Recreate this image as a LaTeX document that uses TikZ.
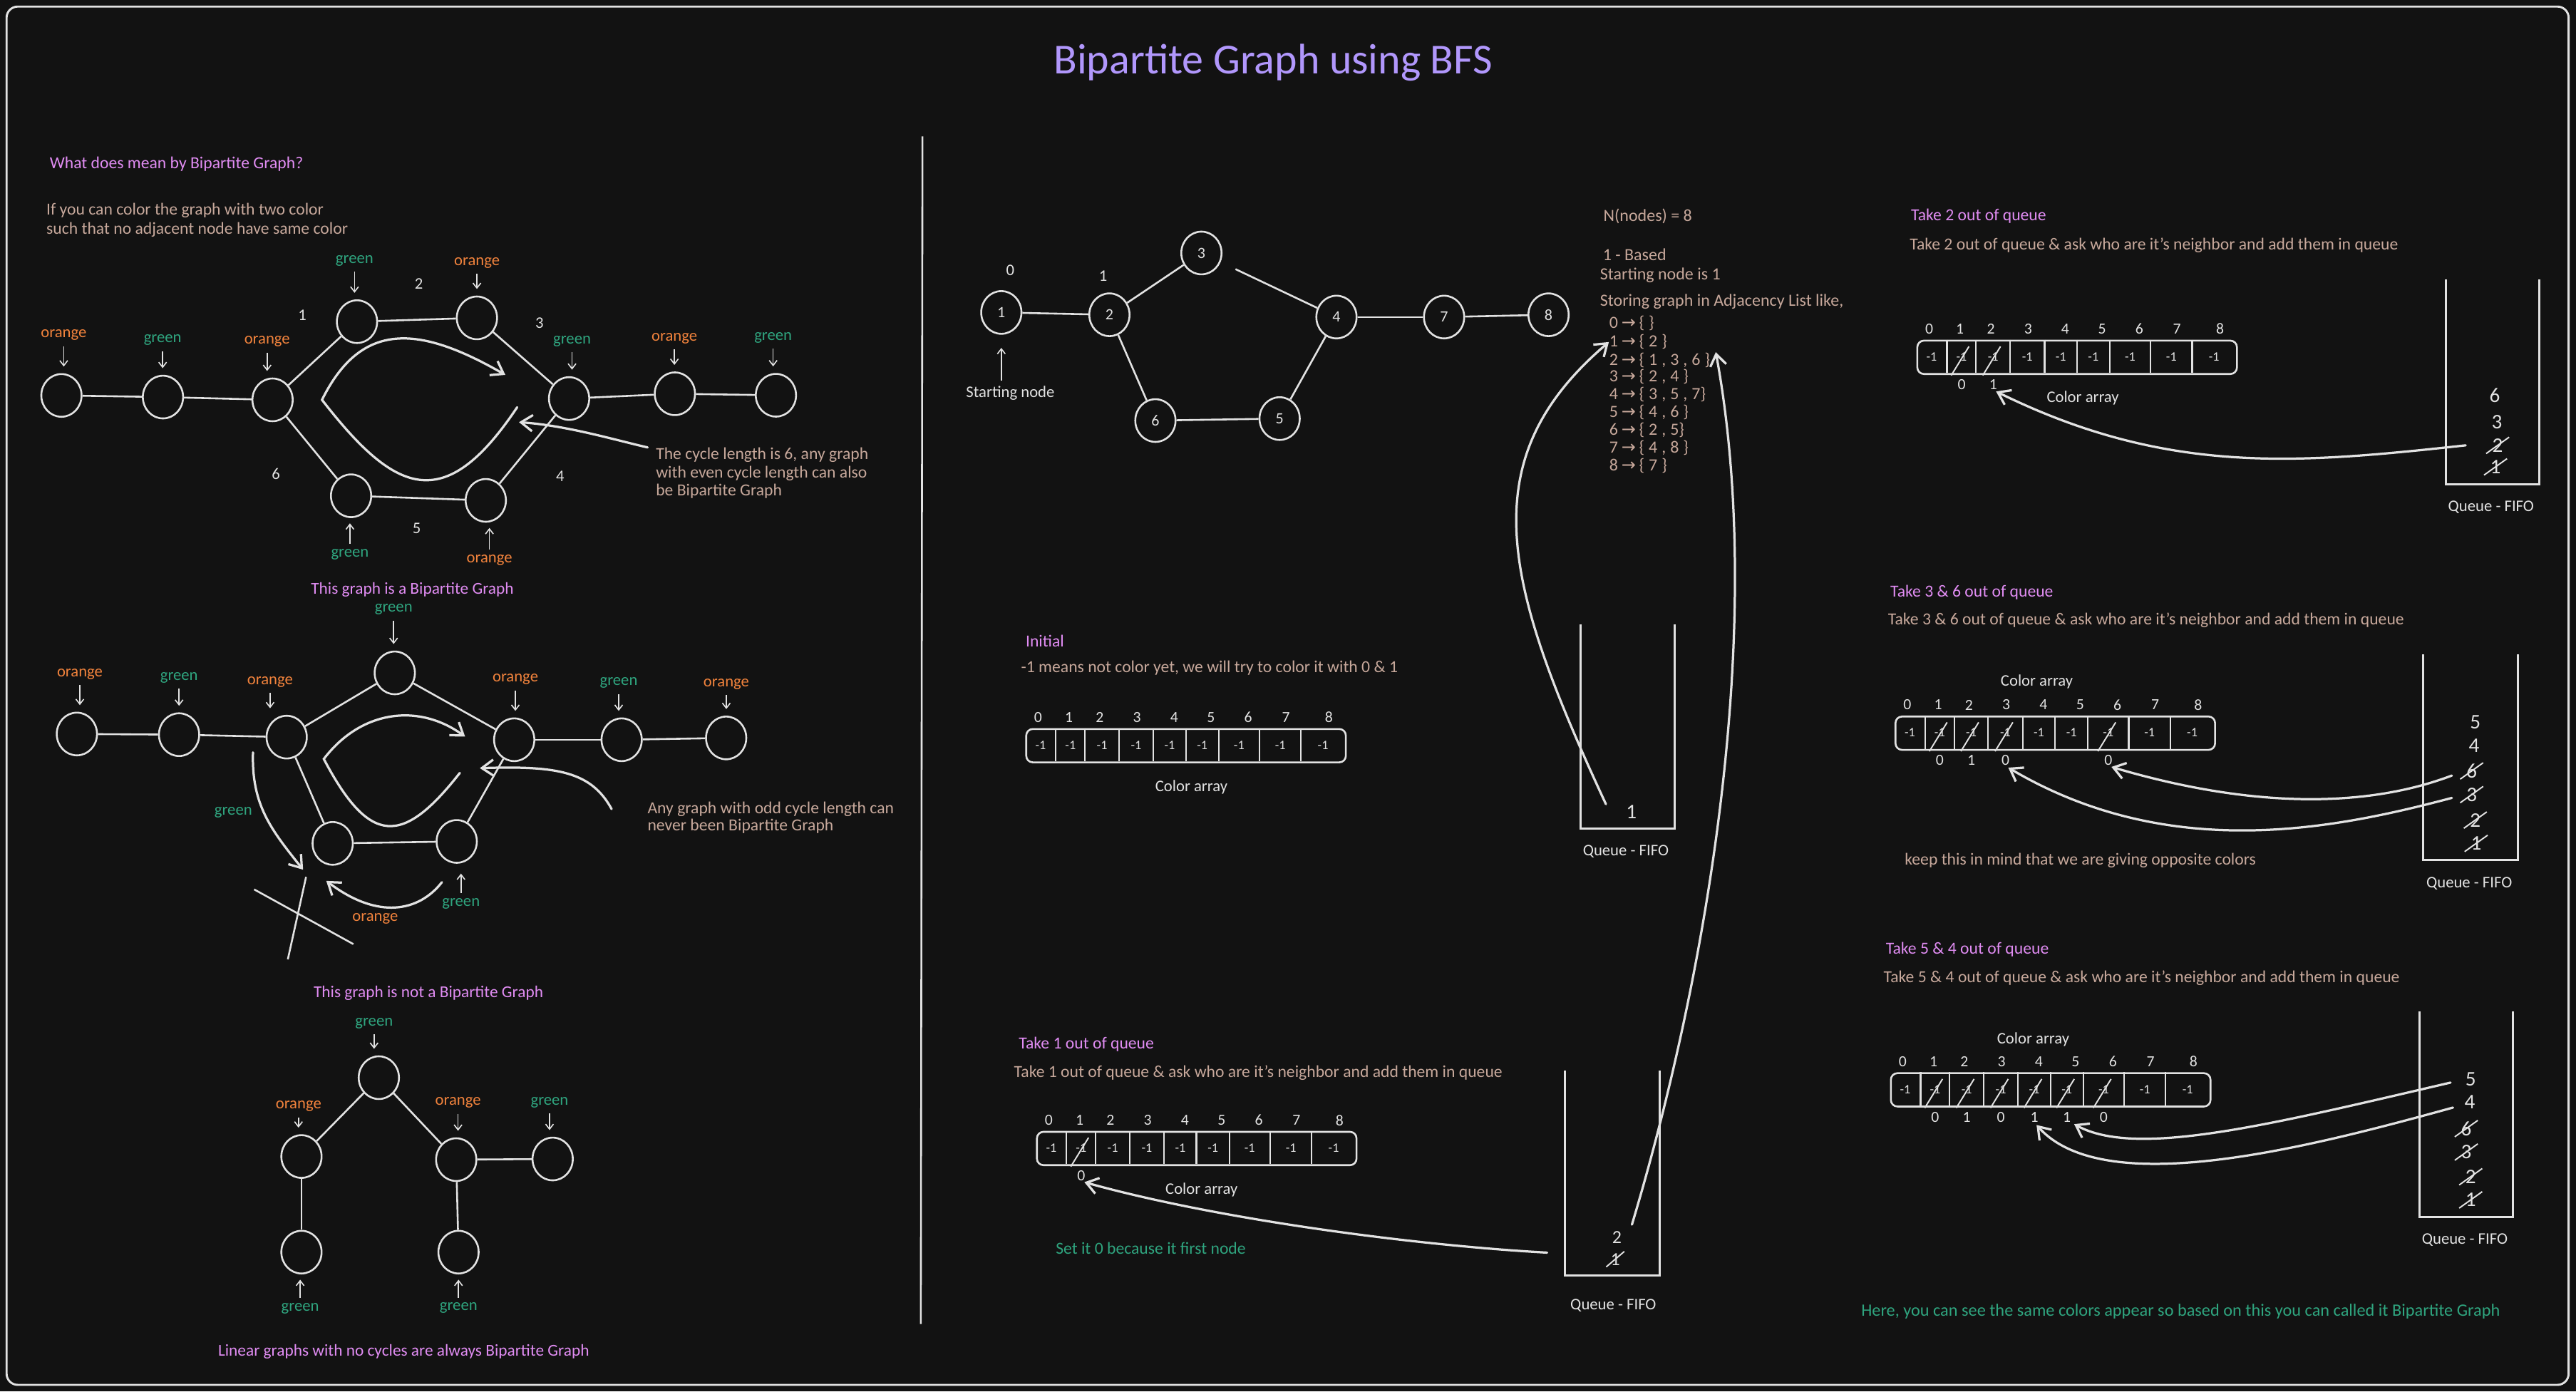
\documentclass[tikz,border=0pt]{standalone}
\usepackage{fontspec}
\setmainfont{Carlito}
\newfontfamily\djv{DejaVu Sans}
\usetikzlibrary{arrows.meta,shapes.geometric,calc}
\definecolor{bg}{HTML}{121212}
\definecolor{ink}{HTML}{E2E2E2}
\definecolor{violet}{HTML}{B197FC}
\definecolor{pinkh}{HTML}{E08CF2}
\definecolor{tan}{HTML}{C7A89B}
\definecolor{orng}{HTML}{F0823C}
\definecolor{grn}{HTML}{2FA57F}
\newcommand{\fsz}[2]{\fontsize{#1}{#2}\selectfont}
\newcommand{\ar}{\hspace{0.2em}{\djv →}\hspace{0.2em}}
\newcommand{\spx}{\hspace{0.25em}}
\tikzset{
  gnode/.style={ellipse, draw=ink, line width=0.8pt, minimum width=0.6125cm, minimum height=0.65cm, inner sep=0pt, text=ink, font=\fsz{6.8}{8}},
  gedge/.style={draw=ink, line width=0.8pt},
  larrow/.style={draw=ink, line width=0.5pt, -{Straight Barb[length=2.2pt,width=3.4pt]}},
  barrow/.style={draw=ink, line width=1pt, line cap=round, -{Straight Barb[length=5pt,width=7pt]}},
  ltxt/.style={font=\fsz{7}{8.4}, inner sep=0pt},
  orangelbl/.style={ltxt, text=orng},
  greenlbl/.style={ltxt, text=grn},
  wnum/.style={font=\fsz{7}{8}, text=ink, inner sep=0pt},
  hdtxt/.style={font=\fsz{7.3}{8.6}, text=pinkh, inner sep=0pt, anchor=west},
  bdtxt/.style={font=\fsz{7.3}{8.6}, text=tan, inner sep=0pt, anchor=west, align=left},
  grntxt/.style={font=\fsz{7.3}{8.6}, text=grn, inner sep=0pt, anchor=west},
  adjtxt/.style={font=\fsz{7.4}{8.6}, text=tan, inner sep=0pt, anchor=west},
  captxt/.style={font=\fsz{7.2}{8.6}, text=pinkh, inner sep=0pt},
  idx/.style={font=\fsz{6.7}{7.5}, text=ink, inner sep=0pt},
  cellv/.style={font=\fsz{5.6}{6.5}, text=ink, inner sep=0pt},
  arrbox/.style={draw=ink, line width=0.8pt, rounded corners=0.1cm, minimum width=4.8625cm, minimum height=0.5075cm, inner sep=0pt, anchor=north west},
  divl/.style={draw=ink, line width=0.7pt},
  slashl/.style={draw=ink, line width=0.6pt},
  qline/.style={draw=ink, line width=0.9pt},
  qnum/.style={font=\fsz{9}{10}, text=ink, inner sep=0pt},
  wtxt/.style={font=\fsz{7}{8.4}, text=ink, inner sep=0pt},
}
\newcommand{\carr}[2]{%
  \begin{scope}[shift={#2}]
    \node[arrbox] (#1) at (0,0) {};
    \foreach \xd in {18.6,36.3,57,78,97.7,117.7,142.5,167.8}{\draw[divl] (\xd,0) -- (\xd,20.3);}
    \foreach \i/\x in {0/7.8,1/26.5,2/45.3,3/68,4/90.6,5/113,6/135.7,7/158.6,8/184.8}{\node[idx] (#1i\i) at (\x,-6.5) {\i};}
    \foreach \i/\x in {0/9.3,1/27.5,2/46.7,3/67.5,4/87.9,5/107.7,6/130.1,7/155.2,8/181.2}{\node[cellv] (#1c\i) at (\x,10.4) {-1};}
  \end{scope}}
\newcommand{\bel}[3]{\node[idx] (#1b#2) at ($(#1c#2.center)+(0,16.9)$) {#3};}
\newcommand{\cslash}[1]{\draw[slashl] ($(#1.center)+(-6.3,11.3)$) -- ($(#1.center)+(4.5,-6.3)$);}
\newcommand{\qx}[3]{\node[qnum] (#1) at #2 {#3};\draw[slashl] ($(#1.center)+(-7,5)$) -- ($(#1.center)+(7,-5)$);}
\newcommand{\queue}[4]{\draw[qline] (#1,#2) -- (#1,#4) -- (#3,#4) -- (#3,#2);}
\begin{document}
\begin{tikzpicture}[x=0.025cm,y=-0.025cm]
\fill[bg] (0,0) rectangle (1568,847);
\path[use as bounding box] (0,0) rectangle (1568,847);
\draw[ink, line width=0.9pt, rounded corners=0.17cm] (4,4) rectangle (1563.5,843);
\draw[ink, line width=0.8pt] (561.5,83) -- (560.5,806);

\node[font=\fsz{18.5}{22}, text=violet, inner sep=0pt] (title) at (775,38) {Bipartite Graph using BFS};

% ---------------- left panel ----------------
\node[hdtxt] (q1) at (30,100) {What does mean by Bipartite Graph?};
\node[bdtxt] (def) at (28,134) {If you can color the graph with two color\\such that no adjacent node have same color};

% graph 1
\node[gnode] (a1) at (37.4,240.7) {};
\node[gnode] (a2) at (99.2,241.7) {};
\node[gnode] (a3) at (165.9,243.4) {};
\node[gnode] (a4) at (217.3,195.8) {};
\node[gnode] (a5) at (290.3,193.5) {};
\node[gnode] (a6) at (346.4,242.6) {};
\node[gnode] (a7) at (410.8,239.7) {};
\node[gnode] (a8) at (472.3,240.6) {};
\node[gnode] (a9) at (213.7,301.8) {};
\node[gnode] (a10) at (295.7,304.6) {};
\draw[gedge] (a1) -- (a2); \draw[gedge] (a2) -- (a3); \draw[gedge] (a3) -- (a4);
\draw[gedge] (a4) -- (a5); \draw[gedge] (a5) -- (a6); \draw[gedge] (a6) -- (a7);
\draw[gedge] (a7) -- (a8); \draw[gedge] (a3) -- (a9); \draw[gedge] (a9) -- (a10);
\draw[gedge] (a10) -- (a6);
\node[wnum] (e1) at (184,191.7) {1};
\node[wnum] (e2) at (255,172.7) {2};
\node[wnum] (e3) at (328.4,196.8) {3};
\node[wnum] (e4) at (341,289.8) {4};
\node[wnum] (e5) at (253.6,321.5) {5};
\node[wnum] (e6) at (168,288.5) {6};
\node[orangelbl] (la1) at (38.8,204) {orange};
\node[greenlbl] (la2) at (99,207) {green};
\node[orangelbl] (la3) at (162.6,208) {orange};
\node[greenlbl] (la4) at (215.8,158.8) {green};
\node[orangelbl] (la5) at (290.3,159.9) {orange};
\node[greenlbl] (la6) at (348.2,207.7) {green};
\node[orangelbl] (la7) at (410.5,205.9) {orange};
\node[greenlbl] (la8) at (470.6,205.5) {green};
\node[greenlbl] (la9) at (213,337.4) {green};
\node[orangelbl] (la10) at (297.9,341) {orange};
\foreach \n in {1,...,8}{\draw[larrow, shorten <=0.08cm, shorten >=0.1cm] (la\n.south) -- (la\n.south |- a\n.north);}
\foreach \n in {9,10}{\draw[larrow, shorten <=0.07cm, shorten >=0.08cm] (la\n.north) -- (la\n.north |- a\n.south);}
\coordinate (g1s) at (314.8,247.9);
\coordinate (g1v) at (196,243.4);
\coordinate (g1e) at (307.6,228.2);
\draw[barrow] (g1s) .. controls (270,315) and (240,300) .. (g1v) .. controls (220,195) and (255,198) .. (g1e);
\node[bdtxt, font=\fsz{7.3}{7.8}] (note1) at (399,288) {The cycle length is 6, any graph\\with even cycle length can also\\be Bipartite Graph};
\coordinate (g1n) at (315.9,257);
\draw[barrow] ([xshift=-0.12cm]note1.north west) .. controls (375,268) and (345,259) .. (g1n);
\node[captxt] (cap1) at (251,359) {This graph is a Bipartite Graph};

% graph 2
\node[gnode] (b1) at (46.8,446.8) {};
\node[gnode] (b2) at (109,447.2) {};
\node[gnode] (b3) at (174.5,448.7) {};
\node[gnode] (b4) at (240.3,409.6) {};
\node[gnode] (b5) at (313,450.3) {};
\node[gnode] (b6) at (378.4,450.3) {};
\node[gnode] (b7) at (442,449.2) {};
\node[gnode] (b8) at (202.5,513.4) {};
\node[gnode] (b9) at (278,512.2) {};
\draw[gedge] (b1) -- (b2); \draw[gedge] (b2) -- (b3); \draw[gedge] (b3) -- (b4);
\draw[gedge] (b4) -- (b5); \draw[gedge] (b5) -- (b6); \draw[gedge] (b6) -- (b7);
\draw[gedge] (b3) -- (b8); \draw[gedge] (b8) -- (b9); \draw[gedge] (b9) -- (b5);
\node[orangelbl] (lb1) at (48.6,410.3) {orange};
\node[greenlbl] (lb2) at (109,412.6) {green};
\node[orangelbl] (lb3) at (164.4,415.1) {orange};
\node[greenlbl] (lb4) at (239.6,371) {green};
\node[orangelbl] (lb5) at (313.7,413.5) {orange};
\node[greenlbl] (lb6) at (376.6,415.8) {green};
\node[orangelbl] (lb7) at (442.1,416.3) {orange};
\foreach \n in {1,...,7}{\draw[larrow, shorten <=0.08cm, shorten >=0.1cm] (lb\n.south) -- (lb\n.south |- b\n.north);}
\node[greenlbl] (lb9) at (280.6,550) {green};
\draw[larrow, shorten <=0.07cm, shorten >=0.15cm] (lb9.north) -- (lb9.north |- b9.south);
\coordinate (g2s) at (279.9,470.5);
\coordinate (g2v) at (197.1,462);
\coordinate (g2e) at (283.1,448.4);
\draw[barrow] (g2s) .. controls (245,515) and (225,515) .. (g2v) .. controls (220,432) and (255,428) .. (g2e);
\node[bdtxt, font=\fsz{7.3}{7.6}] (note2) at (393.9,497.8) {Any graph with odd cycle length can\\never been Bipartite Graph};
\coordinate (g2a) at (372.3,492.5);
\coordinate (g2n) at (292.1,467.6);
\draw[barrow] (g2a) .. controls (360,470) and (340,466) .. (g2n);
\node[greenlbl] (lgx) at (142,494.6) {green};
\node[orangelbl] (lox) at (228.4,559.1) {orange};
\coordinate (x1s) at (154,458);
\coordinate (x1e) at (184.5,529.4);
\draw[barrow] (x1s) .. controls (153,490) and (165,505) .. (x1e);
\coordinate (x2s) at (269,537);
\coordinate (x2e) at (198.6,536.2);
\draw[barrow] (x2s) .. controls (255,555) and (230,560) .. (x2e);
\draw[gedge] (154.7,541.4) -- (215.1,574.7);
\draw[gedge] (186.3,533.8) -- (175.2,584);
\node[captxt] (cap2) at (260.8,604.4) {This graph is not a Bipartite Graph};

% graph 3
\node[gnode] (c1) at (230.6,656) {};
\node[gnode] (c2) at (183.5,704) {};
\node[gnode] (c3) at (277.7,705.9) {};
\node[gnode] (c4) at (336.4,705.5) {};
\node[gnode] (c5) at (183.5,762.2) {};
\node[gnode] (c6) at (279.1,762.2) {};
\draw[gedge] (c1) -- (c2); \draw[gedge] (c1) -- (c3); \draw[gedge] (c2) -- (c5);
\draw[gedge] (c3) -- (c6); \draw[gedge] (c3) -- (c4);
\node[greenlbl] (lc1) at (227.7,622.9) {green};
\node[orangelbl] (lc2) at (181.7,673.4) {orange};
\node[orangelbl] (lc3) at (278.8,671.2) {orange};
\node[greenlbl] (lc4) at (334.5,671) {green};
\node[greenlbl] (lc5) at (182.7,796.5) {green};
\node[greenlbl] (lc6) at (279.1,796.2) {green};
\foreach \n in {1,...,4}{\draw[larrow, shorten <=0.08cm, shorten >=0.1cm] (lc\n.south) -- (lc\n.south |- c\n.north);}
\foreach \n in {5,6}{\draw[larrow, shorten <=0.07cm, shorten >=0.08cm] (lc\n.north) -- (lc\n.north |- c\n.south);}
\node[captxt] (cap3) at (245.7,822.6) {Linear graphs with no cycles are always Bipartite Graph};

% ---------------- middle panel ----------------
\node[gnode] (m1) at (609.5,190.2) {1};
\node[gnode] (m2) at (675.3,191.6) {2};
\node[gnode] (m3) at (731.3,154) {3};
\node[gnode] (m4) at (813.5,193) {4};
\node[gnode] (m7) at (879,193) {7};
\node[gnode] (m8) at (942.6,191.6) {8};
\node[gnode] (m6) at (703.3,256) {6};
\node[gnode] (m5) at (778.9,254.8) {5};
\draw[gedge] (m1) -- (m2); \draw[gedge] (m2) -- (m3);
\draw[gedge, shorten <=0.25cm] (m3) -- (m4);
\draw[gedge] (m4) -- (m7); \draw[gedge] (m7) -- (m8);
\draw[gedge] (m2) -- (m6); \draw[gedge] (m6) -- (m5); \draw[gedge] (m5) -- (m4);
\node[wnum] (mc1) at (615,164.6) {0};
\node[wnum] (mc2) at (671.5,168) {1};
\node[wtxt] (stlbl) at (615,239.3) {Starting node};
\draw[larrow, shorten <=0.08cm, shorten >=0.2cm] (stlbl.north -| m1.south) -- (m1.south);

% adjacency
\node[adjtxt] (adjN) at (975.8,131.6) {N(nodes) = 8};
\node[adjtxt] (adjB) at (975.4,155) {1 - Based};
\node[adjtxt] (adjS) at (973.7,167.5) {Starting node is 1};
\node[adjtxt] (adjG) at (973.7,183.7) {Storing graph in Adjacency List like,};
\node[adjtxt] (adj0) at (979.3,196.7) {0\ar\{\spx\}};
\node[adjtxt] (adj1) at (979.3,208.2) {1\ar\{\spx2\spx\}};
\node[adjtxt] (adj2) at (979.3,219.1) {2\ar\{\spx1\spx,\spx3\spx,\spx6\spx\}};
\node[adjtxt] (adj3) at (979.3,229.2) {3\ar\{\spx2\spx,\spx4\spx\}};
\node[adjtxt] (adj4) at (979.3,240) {4\ar\{\spx3\spx,\spx5\spx,\spx7\}};
\node[adjtxt] (adj5) at (979.3,250.9) {5\ar\{\spx4\spx,\spx6\spx\}};
\node[adjtxt] (adj6) at (979.3,261.7) {6\ar\{\spx2\spx,\spx5\}};
\node[adjtxt] (adj7) at (979.3,272.6) {7\ar\{\spx4\spx,\spx8\spx\}};
\node[adjtxt] (adj8) at (979.3,283.4) {8\ar\{\spx7\spx\}};

% initial
\node[hdtxt] (init) at (624.1,390.2) {Initial};
\node[bdtxt] (initd) at (621.3,406.6) {-1 means not color yet, we will try to color it with 0 \& 1};
\carr{ai}{(624.1,443.2)}
\node[wtxt] (ailbl) at (725.2,479) {Color array};
\queue{962}{380}{1019.3}{504.5}
\node[qnum] (qi1) at (993,494.3) {1};
\node[wtxt] (qilbl) at (989.6,518.4) {Queue - FIFO};
\draw[barrow] ([xshift=-0.3cm,yshift=0.12cm]qi1.west) .. controls (915,355) and (895,280) .. (adj1.west);

% take 1
\node[hdtxt] (t1h) at (619.9,635.6) {Take 1 out of queue};
\node[bdtxt] (t1d) at (617,652.9) {Take 1 out of queue \& ask who are it’s neighbor and add them in queue};
\carr{at}{(630.6,688.4)}
\cslash{atc1}
\bel{at}{1}{0}
\node[wtxt] (atlbl) at (731.4,724.2) {Color array};
\node[grntxt] (t1n) at (642.4,760) {Set it 0 because it first node};
\queue{952.4}{651.5}{1010.2}{776.5}
\node[qnum, font=\fsz{8}{9}] (qt2) at (984.2,753.4) {2};
\node[qnum, font=\fsz{8}{9}] (qt1) at (983.2,766.5) {1};
\draw[slashl] ($(qt1.center)+(-5.5,4.7)$) -- ($(qt1.center)+(5.5,-4.7)$);
\node[wtxt] (qtlbl) at (982,794.7) {Queue - FIFO};
\coordinate (t1s) at (941.7,762.5);
\draw[barrow, shorten >=0.05cm] (t1s) .. controls (860,758) and (740,742) .. (atb1.south);
\draw[barrow] ([xshift=0.15cm,yshift=0.1cm]qt2.north east) .. controls (1040,590) and (1075,380) .. ([xshift=0.08cm]adj2.north east);

% ---------------- right panel ----------------
% take 2
\node[hdtxt] (t2h) at (1163,131.6) {Take 2 out of queue};
\node[bdtxt] (t2d) at (1162.2,149.2) {Take 2 out of queue \& ask who are it’s neighbor and add them in queue};
\carr{ab}{(1166.5,206.8)}
\cslash{abc1} \cslash{abc2}
\bel{ab}{1}{0} \bel{ab}{2}{1}
\node[wtxt] (ablbl) at (1267.8,242.2) {Color array};
\queue{1488.9}{170}{1545.6}{295}
\node[qnum] (qb6) at (1518.5,240.8) {6};
\node[qnum] (qb3) at (1519.8,257.1) {3};
\qx{qb2}{(1520.3,271.1)}{2}
\qx{qb1}{(1519,284.2)}{1}
\node[wtxt] (qblbl) at (1516.3,308.8) {Queue - FIFO};
\draw[barrow, shorten >=0.05cm] ([xshift=-0.4cm]qb2.west) .. controls (1400,282) and (1320,290) .. (abb2.south);

% take 3 & 6
\node[hdtxt] (t3h) at (1150.4,360.8) {Take 3 \& 6 out of queue};
\node[bdtxt] (t3d) at (1149,377.7) {Take 3 \& 6 out of queue \& ask who are it’s neighbor and add them in queue};
\node[wtxt] (aclbl) at (1239.8,415) {Color array};
\carr{ac}{(1153.2,435.6)}
\cslash{acc1} \cslash{acc2} \cslash{acc3} \cslash{acc6}
\bel{ac}{1}{0} \bel{ac}{2}{1} \bel{ac}{3}{0} \bel{ac}{6}{0}
\node[bdtxt] (keep) at (1159.2,523.8) {keep this in mind that we are giving opposite colors};
\queue{1475}{398.4}{1532.8}{523.5}
\node[qnum] (qc5) at (1506.7,439.6) {5};
\node[qnum] (qc4) at (1505.9,453.8) {4};
\qx{qc6}{(1504.5,469.3)}{6}
\qx{qc3}{(1504.5,483.7)}{3}
\qx{qc2}{(1506.7,499.2)}{2}
\qx{qc1}{(1507.2,513.4)}{1}
\node[wtxt] (qclbl) at (1503,537.7) {Queue - FIFO};
\draw[barrow, shorten >=0.05cm] ([xshift=-0.215cm,yshift=-0.07cm]qc6.west) .. controls (1440,492) and (1370,492) .. (acb6.south);
\draw[barrow, shorten >=0.05cm] ([xshift=-0.215cm,yshift=-0.05cm]qc3.west) .. controls (1420,505) and (1320,525) .. (acb3.south);

% take 5 & 4
\node[hdtxt] (t5h) at (1147.7,577.9) {Take 5 \& 4 out of queue};
\node[bdtxt] (t5d) at (1146.3,595.2) {Take 5 \& 4 out of queue \& ask who are it’s neighbor and add them in queue};
\node[wtxt] (adlbl) at (1237.6,632.6) {Color array};
\carr{ad}{(1150.4,652.7)}
\cslash{adc1} \cslash{adc2} \cslash{adc3} \cslash{adc4} \cslash{adc5} \cslash{adc6}
\bel{ad}{1}{0} \bel{ad}{2}{1} \bel{ad}{3}{0} \bel{ad}{4}{1} \bel{ad}{5}{1} \bel{ad}{6}{0}
\queue{1472.8}{615.6}{1529.5}{741}
\node[qnum] (qd5) at (1503.9,657) {5};
\node[qnum] (qd4) at (1503.4,671) {4};
\qx{qd6}{(1501.2,687)}{6}
\qx{qd3}{(1501.2,701.3)}{3}
\qx{qd2}{(1503.9,716.3)}{2}
\qx{qd1}{(1503.9,730.4)}{1}
\node[wtxt] (qdlbl) at (1500.3,754.6) {Queue - FIFO};
\draw[barrow, shorten >=0.05cm] ([xshift=-0.22cm,yshift=-0.05cm]qd5.west) .. controls (1380,685) and (1300,705) .. (adb5.south east);
\draw[barrow, shorten >=0.05cm] ([xshift=-0.17cm,yshift=-0.08cm]qd4.west) .. controls (1400,700) and (1280,730) .. (adb4.south);
\node[grntxt, font=\fsz{7.5}{8.6}, anchor=east] (here) at (1522,798.3) {Here, you can see the same colors appear so based on this you can called it Bipartite Graph};
\end{tikzpicture}
\end{document}
